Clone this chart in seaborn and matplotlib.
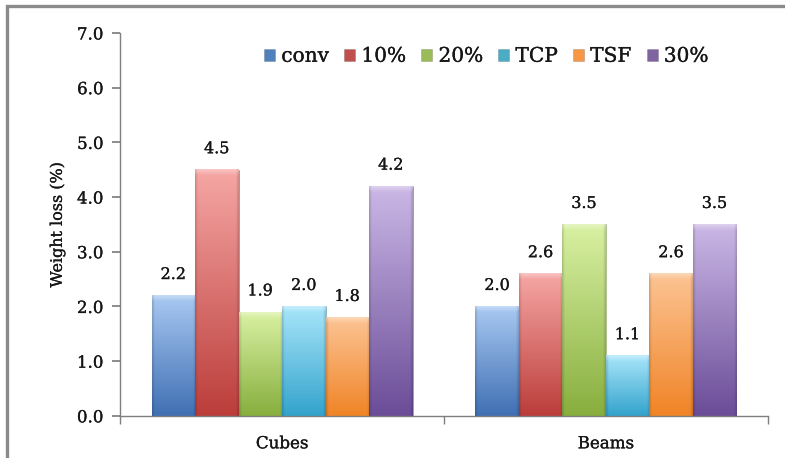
import numpy as np
import pandas as pd
import matplotlib
matplotlib.use("Agg")
import matplotlib.pyplot as plt
import matplotlib.patheffects as pe
from matplotlib.patches import Patch, Rectangle
from matplotlib.colors import to_rgb
import seaborn as sns

# Weight loss data per specimen type and mix
groups = ["Cubes", "Beams"]
mixes = ["conv", "10%", "20%", "TCP", "TSF", "30%"]
cubes = [2.2, 4.5, 1.9, 2.0, 1.8, 4.2]
beams = [2.0, 2.6, 3.5, 1.1, 2.6, 3.5]

# light (top) and dark (bottom) shades for each mix
top_colors = ["#a9c9f2", "#f6a7a5", "#d9f1a3", "#a9e6fa", "#fcc494", "#cbb8e6"]
base_colors = ["#4f81bd", "#c0504d", "#9bbb59", "#4bacc6", "#f79646", "#8064a2"]
bottom_colors = ["#3f6fb3", "#bb3d3a", "#87ae3d", "#33a3cc", "#f08426", "#6a4c97"]

df = pd.DataFrame({
    "group": np.repeat(groups, len(mixes)),
    "mix": mixes * len(groups),
    "loss": cubes + beams,
})

sns.set_theme(style="white")
plt.rcParams["font.family"] = ["DejaVu Serif"]

TEXT = "#161616"
heavy = [pe.withStroke(linewidth=0.2, foreground=TEXT)]

fig = plt.figure(figsize=(7.85, 4.58), dpi=100)
ax = fig.add_axes([0.153, 0.092, 0.825, 0.836])

sns.barplot(data=df, x="group", y="loss", hue="mix", order=groups,
            hue_order=mixes, palette=base_colors, width=0.806,
            saturation=1, legend=False, ax=ax, linewidth=0)

ax.set_xlim(-0.5, 1.5)
ax.set_ylim(0, 7.0)
px_per_unit = ax.get_window_extent().height / 7.0


def shade_bar(patch, top, bottom):
    x0, y0 = patch.get_x(), patch.get_y()
    w, h = patch.get_width(), patch.get_height()
    rows, cols = 400, 60
    t = np.linspace(0, 1, rows)[:, None, None]
    c_top = np.array(to_rgb(top))[None, None, :]
    c_bot = np.array(to_rgb(bottom))[None, None, :]
    img = c_top * (1 - t) + c_bot * t
    img = np.repeat(img, cols, axis=1)
    # darker bevel along the side edges
    u = np.linspace(0, 1, cols)
    edge = np.clip(np.minimum(u, 1 - u) / 0.06, 0, 1)
    img = img * (0.84 + 0.16 * edge)[None, :, None]
    # soft highlight fading down from the top edge
    bar_px = h * px_per_unit
    depth = 6.0 / max(bar_px, 1.0)
    s = np.clip(1 - t[:, :, 0] / depth, 0, 1)[:, :, None]
    img = img * (1 - 0.35 * s) + 0.35 * s
    ax.imshow(np.clip(img, 0, 1), extent=(x0, x0 + w, y0, y0 + h),
              origin="upper", aspect="auto", zorder=2,
              interpolation="bilinear", clip_path=patch, clip_on=True)
    patch.set_edgecolor((0, 0, 0, 0.15))
    patch.set_linewidth(0.6)


for cont, top, bot in zip(ax.containers, top_colors, bottom_colors):
    for patch in cont.patches:
        shade_bar(patch, top, bot)
    labels = ax.bar_label(cont, fmt="%.1f", padding=9, fontsize=11.5,
                          color=TEXT, zorder=4)
    for lab in labels:
        lab.set_path_effects(heavy)

ax.set_xlim(-0.5, 1.5)
ax.set_ylim(0, 7.0)
ax.set_yticks(np.arange(0, 7.01, 1.0))
ax.set_yticklabels([f"{v:.1f}" for v in np.arange(0, 7.01, 1.0)],
                   fontsize=12, color=TEXT)
ax.set_xticks([0, 1])
ax.set_xticklabels(groups, fontsize=12, color=TEXT)
ax.set_xticks([-0.5, 0.5, 1.5], minor=True)
ax.tick_params(axis="x", which="major", length=0, pad=14)
ax.tick_params(axis="x", which="minor", length=6, color="#7f7f7f",
               direction="out", bottom=True)
ax.tick_params(axis="y", length=6, color="#7f7f7f", direction="out",
               left=True, pad=6)
ax.set_xlabel("")
ax.set_ylabel("Weight loss (%)", fontsize=11.5, color=TEXT, labelpad=8)
ax.yaxis.label.set_path_effects(heavy)
for lab in ax.get_xticklabels() + ax.get_yticklabels():
    lab.set_path_effects(heavy)

for side in ["top", "right"]:
    ax.spines[side].set_visible(False)
for side in ["left", "bottom"]:
    ax.spines[side].set_color("#7f7f7f")
    ax.spines[side].set_linewidth(1.0)

handles = [Patch(facecolor=c, edgecolor=(0, 0, 0, 0.2), linewidth=0.5)
           for c in base_colors]
leg = ax.legend(handles, mixes, ncol=6, loc="upper left",
                bbox_to_anchor=(0.21, 0.985), frameon=False, fontsize=14.5,
                handlelength=0.55, handleheight=0.55, handletextpad=0.3,
                columnspacing=0.75, borderaxespad=0)
for txt in leg.get_texts():
    txt.set_color(TEXT)
    txt.set_path_effects(heavy)

# outer chart frame
fig.add_artist(Rectangle((0.009, -0.2), 1.2, 1.187,
                         transform=fig.transFigure, fill=False,
                         edgecolor="#8a8a8a", linewidth=2.4))

fig.savefig("out.png", dpi=100)
